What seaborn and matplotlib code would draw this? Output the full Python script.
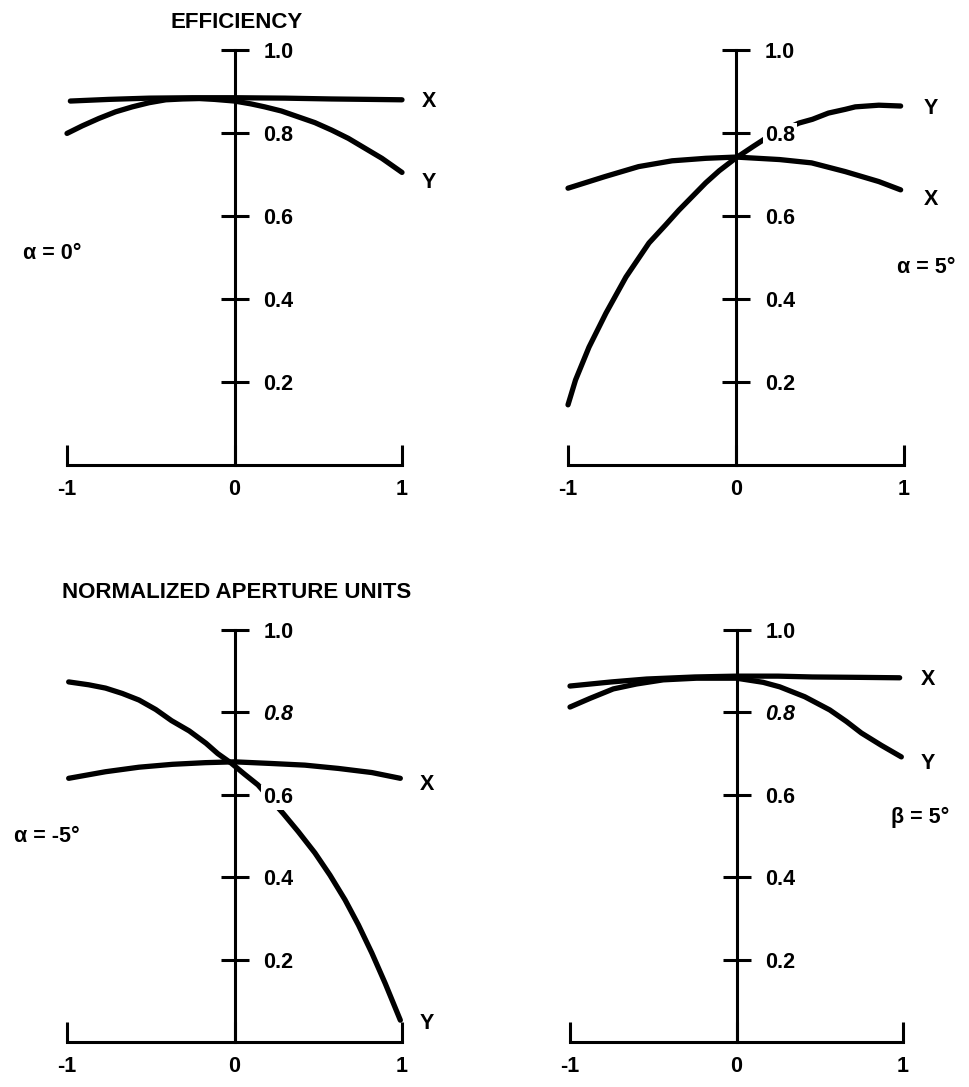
import matplotlib
matplotlib.use("Agg")
import matplotlib.pyplot as plt
import pandas as pd
import seaborn as sns

# Aperture efficiency across the normalized aperture for the X and Y cuts
# alpha = 0 deg
a0_x_pos = [-0.98, -0.75, -0.51, -0.25, 0.0, 0.30, 0.58, 0.80, 1.0]
a0_x_eff = [0.877, 0.881, 0.884, 0.885, 0.885, 0.884, 0.882, 0.881, 0.880]
a0_y_pos = [-1.0, -0.91, -0.81, -0.71, -0.61, -0.51, -0.41, -0.31, -0.21, -0.12,
            0.0, 0.10, 0.18, 0.28, 0.38, 0.48, 0.58, 0.68, 0.78, 0.88, 1.0]
a0_y_eff = [0.799, 0.817, 0.835, 0.851, 0.863, 0.873, 0.880, 0.882, 0.883, 0.881,
            0.877, 0.870, 0.863, 0.853, 0.839, 0.825, 0.807, 0.787, 0.763, 0.739, 0.705]

# alpha = 5 deg
a5_x_pos = [-1.0, -0.78, -0.58, -0.38, -0.18, 0.0, 0.26, 0.45, 0.65, 0.85, 0.98]
a5_x_eff = [0.667, 0.695, 0.719, 0.733, 0.739, 0.742, 0.736, 0.728, 0.707, 0.683, 0.663]
a5_y_pos = [-1.0, -0.955, -0.875, -0.774, -0.655, -0.518, -0.42, -0.34, -0.18, -0.10,
            0.0, 0.10, 0.18, 0.375, 0.455, 0.55, 0.65, 0.71, 0.85, 0.98]
a5_y_eff = [0.145, 0.205, 0.284, 0.366, 0.453, 0.535, 0.578, 0.614, 0.680, 0.709,
            0.740, 0.767, 0.788, 0.824, 0.833, 0.848, 0.857, 0.863, 0.867, 0.865]

# alpha = -5 deg
am5_x_pos = [-0.99, -0.77, -0.57, -0.37, -0.175, 0.0, 0.22, 0.42, 0.62, 0.82, 0.99]
am5_x_eff = [0.640, 0.656, 0.667, 0.674, 0.678, 0.680, 0.676, 0.672, 0.664, 0.654, 0.640]
am5_y_pos = [-0.99, -0.87, -0.77, -0.67, -0.57, -0.47, -0.376, -0.27, -0.17, -0.10,
             -0.02, 0.06, 0.14, 0.29, 0.38, 0.48, 0.57, 0.66, 0.74, 0.82, 0.90, 0.99]
am5_y_eff = [0.874, 0.867, 0.859, 0.846, 0.830, 0.807, 0.780, 0.755, 0.725, 0.700,
             0.677, 0.650, 0.624, 0.555, 0.511, 0.459, 0.405, 0.345, 0.284, 0.216,
             0.142, 0.053]

# beta = 5 deg
b5_x_pos = [-1.0, -0.75, -0.54, -0.25, 0.0, 0.25, 0.455, 0.75, 0.98]
b5_x_eff = [0.864, 0.874, 0.881, 0.886, 0.888, 0.888, 0.886, 0.885, 0.884]
b5_y_pos = [-1.0, -0.88, -0.74, -0.60, -0.44, -0.24, 0.0, 0.16, 0.26, 0.41,
            0.56, 0.66, 0.75, 0.87, 0.99]
b5_y_eff = [0.813, 0.834, 0.857, 0.869, 0.879, 0.883, 0.883, 0.873, 0.862, 0.838,
            0.806, 0.778, 0.750, 0.720, 0.692]

y_ticks = [0.2, 0.4, 0.6, 0.8, 1.0]
y_tick_labels = ["0.2", "0.4", "0.6", "0.8", "1.0"]
x_ticks = [-1, 0, 1]
x_tick_labels = ["-1", "0", "1"]

sns.set_theme(style="white", rc={
    "axes.edgecolor": "black", "text.color": "black",
    "xtick.color": "black", "ytick.color": "black",
    "axes.labelcolor": "black",
})
plt.rcParams["font.family"] = ["Liberation Sans", "DejaVu Sans"]
plt.rcParams["font.weight"] = "bold"

FS = 15.5
fig = plt.figure(figsize=(9.69, 10.87), dpi=100)
W, H = 969.0, 1087.0


def frame(left, right, top, bottom):
    return [left / W, 1 - bottom / H, (right - left) / W, (bottom - top) / H]


panels = [
    dict(rect=frame(67, 402, 50, 465), x=(a0_x_pos, a0_x_eff), y=(a0_y_pos, a0_y_eff),
         xlab=(1.16, 0.875), ylab=(1.16, 0.68), tag="α = 0°", tagpos=(-1.09, 0.51),
         masked=None, italic=None),
    dict(rect=frame(568, 904, 50, 465), x=(a5_x_pos, a5_x_eff), y=(a5_y_pos, a5_y_eff),
         xlab=(1.16, 0.64), ylab=(1.16, 0.86), tag="α = 5°", tagpos=(1.13, 0.477),
         masked="0.8", italic=None),
    dict(rect=frame(67, 402, 630, 1042), x=(am5_x_pos, am5_x_eff), y=(am5_y_pos, am5_y_eff),
         xlab=(1.15, 0.626), ylab=(1.15, 0.046), tag="α = -5°", tagpos=(-1.12, 0.50),
         masked="0.6", italic="0.8"),
    dict(rect=frame(570, 903, 630, 1042), x=(b5_x_pos, b5_x_eff), y=(b5_y_pos, b5_y_eff),
         xlab=(1.15, 0.88), ylab=(1.15, 0.677), tag="β = 5°", tagpos=(1.10, 0.544),
         masked=None, italic="0.8"),
]

for p in panels:
    ax = fig.add_axes(p["rect"])
    for pos, eff in (p["x"], p["y"]):
        df = pd.DataFrame({"pos": pos, "eff": eff})
        sns.lineplot(data=df, x="pos", y="eff", ax=ax, color="black", lw=3.8,
                     solid_capstyle="round", solid_joinstyle="round",
                     clip_on=False, sort=False)
    ax.set_xlim(-1, 1)
    ax.set_ylim(0, 1)
    ax.set_xlabel("")
    ax.set_ylabel("")
    ax.set_axisbelow(False)

    for side in ("left", "top"):
        ax.spines[side].set_visible(False)
    ax.spines["right"].set_position(("data", 0))
    ax.spines["right"].set_bounds(0, 1)
    ax.spines["right"].set_linewidth(2.2)
    ax.spines["bottom"].set_linewidth(2.2)
    ax.spines["bottom"].set_bounds(-1, 1)

    ax.yaxis.tick_right()
    ax.set_yticks(y_ticks)
    ylabels = ax.set_yticklabels(y_tick_labels, fontsize=FS, fontweight="bold")
    ax.tick_params(axis="y", which="both", right=True, left=False, direction="inout",
                   length=19.5, width=2.2, pad=11)
    ax.set_xticks(x_ticks)
    ax.set_xticklabels(x_tick_labels, fontsize=FS, fontweight="bold")
    ax.tick_params(axis="x", bottom=True, direction="in", length=14.5, width=2.2, pad=10)

    for t in ylabels:
        if t.get_text() == p["italic"]:
            t.set_fontstyle("italic")
        if t.get_text() == p["masked"]:
            t.set_bbox(dict(facecolor="white", edgecolor="none", pad=1.5))

    ax.text(*p["xlab"], "X", fontsize=FS, fontweight="bold", ha="center", va="center")
    ax.text(*p["ylab"], "Y", fontsize=FS, fontweight="bold", ha="center", va="center")
    ax.text(*p["tagpos"], p["tag"], fontsize=FS, fontweight="bold", ha="center", va="center")

fig.text(237 / W, 1 - 22 / H, "EFFICIENCY", fontsize=16, fontweight="bold",
         ha="center", va="center")
fig.text(237 / W, 1 - 592 / H, "NORMALIZED APERTURE UNITS", fontsize=16,
         fontweight="bold", ha="center", va="center")

fig.savefig("out.png", dpi=100, facecolor="white")
